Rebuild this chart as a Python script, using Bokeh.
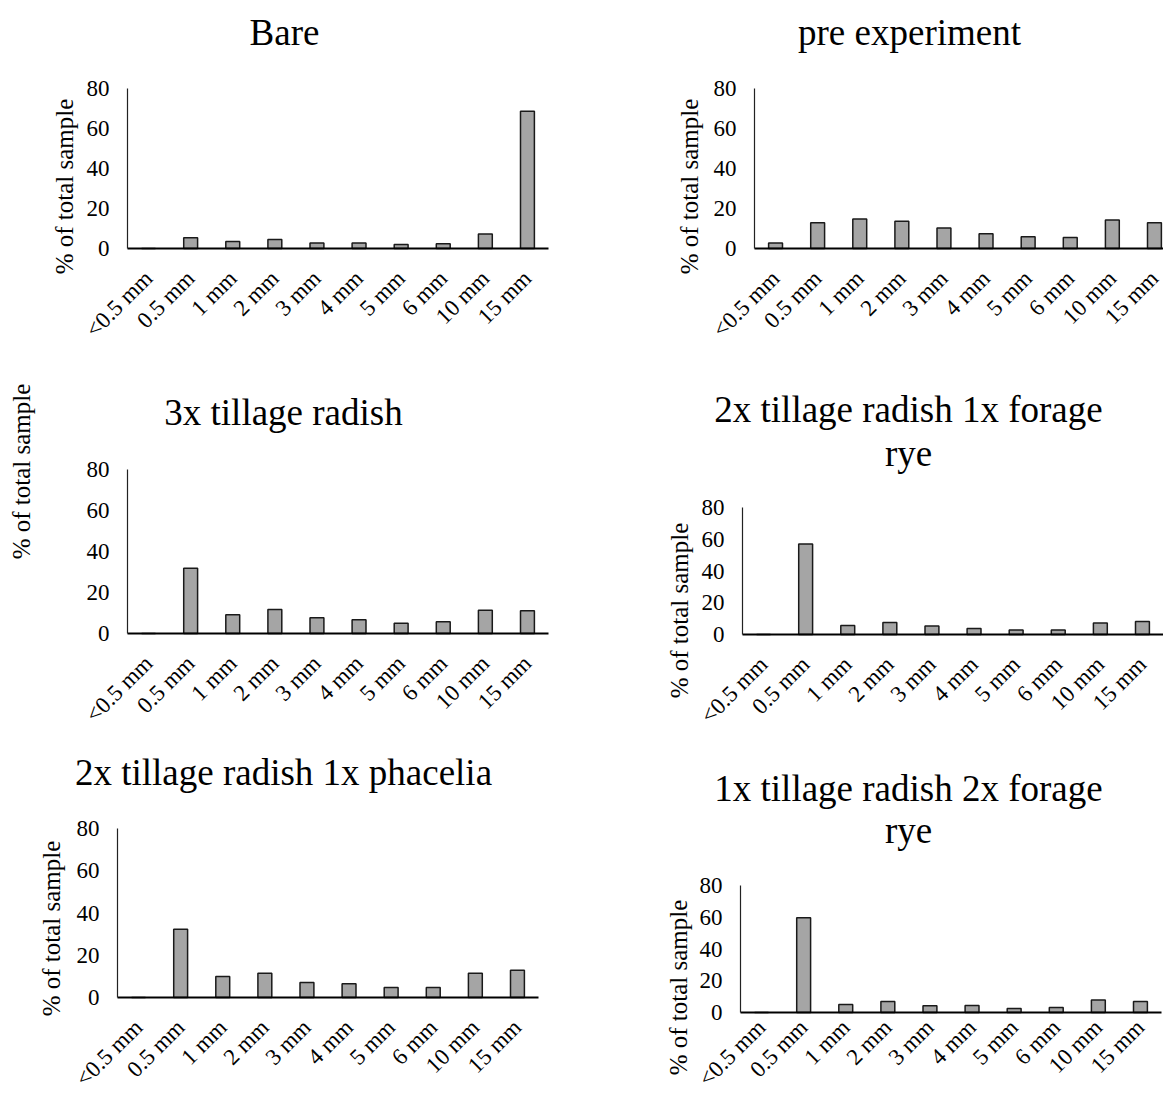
import math

from bokeh.plotting import figure
from bokeh.layouts import column, row
from bokeh.models import Range1d, FixedTicker
from bokeh.core.properties import value
from bokeh.embed import file_html
from bokeh.resources import INLINE

# Aggregate size classes (sieve fractions)
sizes = ["<0.5 mm", "0.5 mm", "1 mm", "2 mm", "3 mm", "4 mm", "5 mm", "6 mm", "10 mm", "15 mm"]
y_ticks = [0, 20, 40, 60, 80]

# % of total sample retained in each size class, per treatment
bare = [0, 5.4, 3.5, 4.5, 2.8, 2.8, 2.0, 2.4, 7.3, 68.6]
pre_experiment = [2.7, 12.9, 14.8, 13.6, 10.2, 7.4, 5.9, 5.5, 14.3, 12.9]
radish_3x = [0, 31.8, 9.1, 11.7, 7.7, 6.7, 5.0, 5.7, 11.4, 11.1]
radish_2x_rye_1x = [0, 57.0, 5.7, 7.6, 5.3, 3.8, 2.9, 2.9, 7.2, 8.2]
radish_2x_phacelia_1x = [0, 32.3, 9.9, 11.5, 7.1, 6.5, 4.7, 4.7, 11.5, 12.9]
radish_1x_rye_2x = [0, 59.7, 5.1, 7.0, 4.2, 4.4, 2.5, 3.2, 7.8, 7.0]

FONT = "Liberation Serif"
BAR_FILL = "#a5a5a5"
BAR_LINE = "#1a1a1a"
CAT_PX = 42.1   # pixel width of one size class
Y_MAX = 80


def panel(values, title_lines, cell, axes_px, ylabel_pos, label_standoff=26):
    """One bar chart filling a cell of cell=(w, h).
    axes_px = (x of the y axis, y of the 80 line, y of the 0 line), in cell pixels.
    title_lines: [(text, centre_x, centre_y)]; ylabel_pos: (centre_x, centre_y)."""
    cw, ch = cell
    ax, top, base = axes_px
    k = (base - top) / Y_MAX                      # pixels per percent
    n = len(sizes)
    x_range = Range1d(-0.5 - ax / CAT_PX, -0.5 + (cw - ax) / CAT_PX)
    y_range = Range1d(-(ch - base) / k, Y_MAX + top / k)

    p = figure(width=cw, height=ch, output_backend="svg", toolbar_location=None,
               x_range=x_range, y_range=y_range)
    p.min_border = 0
    p.outline_line_color = None
    p.background_fill_color = "white"
    p.border_fill_color = "white"
    p.xgrid.visible = False
    p.ygrid.visible = False

    idx = list(range(n))
    p.vbar(x=idx, top=values, bottom=0, width=0.33,
           fill_color=BAR_FILL, line_color=BAR_LINE, line_width=1.5)

    # category axis sitting on the zero line
    xa = p.xaxis[0]
    xa.fixed_location = 0
    xa.bounds = (-0.5, n - 0.5)
    xa.ticker = FixedTicker(ticks=idx)
    xa.major_label_overrides = {i: s for i, s in enumerate(sizes)}
    xa.major_label_orientation = math.pi / 4
    xa.major_label_standoff = label_standoff
    xa.major_tick_line_color = None
    xa.minor_tick_line_color = None
    xa.major_tick_out = 0
    xa.major_tick_in = 0
    xa.axis_line_color = "black"
    xa.axis_line_width = 2
    xa.major_label_text_font = FONT
    xa.major_label_text_font_size = "23px"
    xa.major_label_text_color = "black"

    # percentage axis on the left edge of the first class
    ya = p.yaxis[0]
    ya.fixed_location = -0.5
    ya.bounds = (0, Y_MAX)
    ya.ticker = FixedTicker(ticks=y_ticks)
    ya.major_label_standoff = 18
    ya.major_tick_line_color = None
    ya.minor_tick_line_color = None
    ya.major_tick_out = 0
    ya.major_tick_in = 0
    ya.axis_line_color = "#222222"
    ya.axis_line_width = 1.2
    ya.major_label_text_font = FONT
    ya.major_label_text_font_size = "23px"
    ya.major_label_text_color = "black"

    # chart title, anchored to the axes origin and offset in pixels
    for text, cx, cy in title_lines:
        p.text(x=[-0.5], y=[0], text=[text], x_offset=cx - ax, y_offset=cy - base,
               text_font=value(FONT), text_font_size=value("37px"), text_color="black",
               text_align="center", text_baseline="middle")
    lx, ly = ylabel_pos
    p.text(x=[-0.5], y=[0], text=["% of total sample"], x_offset=lx - ax, y_offset=ly - base,
           angle=math.pi / 2, text_font=value(FONT), text_font_size=value("25px"),
           text_color="black", text_align="center", text_baseline="middle")
    return p


p1 = panel(bare, [("Bare", 284, 32)], (581, 365), (127, 88, 248), (64, 186))
p2 = panel(pre_experiment, [("pre experiment", 328, 32)], (582, 365), (173, 88, 248), (108, 186))
p3 = panel(radish_3x, [("3x tillage radish", 283, 47)], (581, 365), (127, 104, 268), (21, 106))
p4 = panel(radish_2x_rye_1x, [("2x tillage radish 1x forage", 327, 44), ("rye", 327, 88)],
           (582, 365), (161, 142, 269), (98, 245))
p5 = panel(radish_2x_phacelia_1x, [("2x tillage radish 1x phacelia", 283, 42)], (581, 365),
           (117, 98, 267), (51, 198))
p6 = panel(radish_1x_rye_2x, [("1x tillage radish 2x forage", 327, 58), ("rye", 327, 100)],
           (582, 365), (159, 155, 282), (97, 257), label_standoff=11)

layout = column(row(p1, p2, spacing=0), row(p3, p4, spacing=0), row(p5, p6, spacing=0), spacing=0)

with open("out.html", "w") as f:
    f.write(file_html(layout, INLINE))
